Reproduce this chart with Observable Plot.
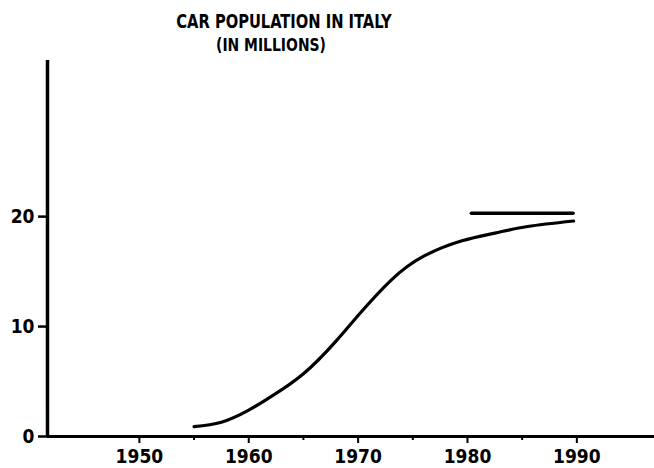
<!DOCTYPE html>
<html>
<head>
<meta charset="utf-8">
<script src="https://cdn.jsdelivr.net/npm/d3@7"></script>
<script src="https://cdn.jsdelivr.net/npm/@observablehq/plot@0.6"></script>
<style>
  html, body { margin: 0; padding: 0; background: #fff; }
  #wrap { position: relative; width: 654px; height: 468px; }
  .ttl { position: absolute; left: 0; width: 568px; text-align: center;
         font-family: "DejaVu Sans Condensed", "Liberation Sans Narrow", Roboto, sans-serif;
         font-weight: bold; color: #000; white-space: nowrap; transform: scaleX(0.86); transform-origin: 284px 0; }
  #t1 { top: 10px; font-size: 19px; }
  #t2 { top: 34px; font-size: 18px; left: -13px; }
</style>
</head>
<body>
<div id="wrap">
  <div class="ttl" id="t1">CAR POPULATION IN ITALY</div>
  <div class="ttl" id="t2">(IN MILLIONS)</div>
  <div id="chart"></div>
</div>
<script>
const years  = [1955, 1957.5, 1960, 1962, 1965, 1968, 1970, 1973, 1976, 1979.5, 1982.5, 1985.5, 1989.7];
const cars   = [0.9, 1.3, 2.4, 3.6, 5.7, 8.7, 11.0, 14.2, 16.4, 17.8, 18.5, 19.1, 19.6];
const targetLevel = [20.3];
const targetFrom = [1980.4];
const targetTo = [1989.7];
const xMajor = [1950, 1960, 1970, 1980, 1990];
const xMinor = [1955, 1965, 1975, 1985];
const yTicks = [0, 10, 20];

const data = years.map((y, i) => ({year: y, cars: cars[i]}));
const target = targetLevel.map((v, i) => ({v, x1: targetFrom[i], x2: targetTo[i]}));
const font = "'DejaVu Sans Condensed', 'Liberation Sans Narrow', Roboto, sans-serif";
const x0 = 1941.6, x1 = 1997.1, yTop = 34.2;

const chart = Plot.plot({
  width: 654, height: 468,
  marginLeft: 47, marginRight: 0, marginTop: 60, marginBottom: 32,
  style: {fontFamily: font, fontWeight: "bold", fontSize: "20px", color: "#000", background: "#fff"},
  x: {domain: [x0, x1], axis: null},
  y: {domain: [0, yTop], axis: null},
  marks: [
    Plot.axisX({ticks: xMinor, tickSize: 4, strokeWidth: 2, text: null}),
    Plot.axisX({ticks: xMajor, tickSize: 7, strokeWidth: 2, tickPadding: 6, tickFormat: d => String(d), fontSize: 19, fontWeight: "bold"}),
    Plot.axisY({ticks: yTicks, tickSize: 9, strokeWidth: 2.5, tickPadding: 4, fontSize: 19, fontWeight: "bold"}),
    Plot.ruleY([0], {x1: x0, x2: x1, strokeWidth: 3}),
    Plot.ruleX([x0], {y1: 0, y2: yTop, strokeWidth: 3.5}),
    Plot.line(data, {x: "year", y: "cars", curve: "natural", strokeWidth: 3.2, stroke: "#000"}),
    Plot.ruleY(target, {y: "v", x1: "x1", x2: "x2", strokeWidth: 3.5, stroke: "#000", strokeLinecap: "round"})
  ]
});
document.getElementById("chart").appendChild(chart);
</script>
</body>
</html>
